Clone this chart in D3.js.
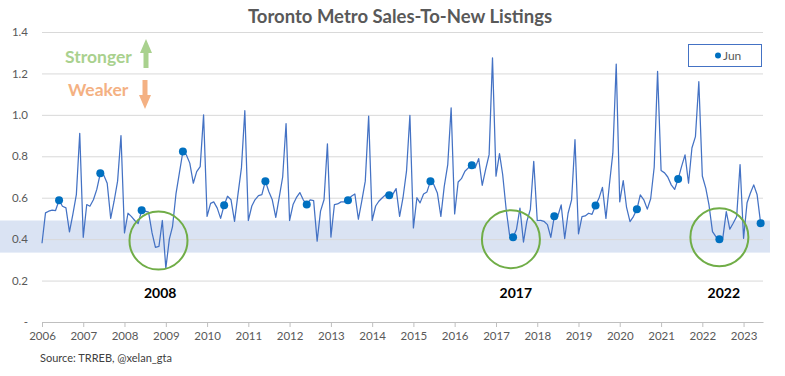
<!DOCTYPE html>
<html>
<head>
<meta charset="utf-8">
<script src="https://cdn.jsdelivr.net/npm/d3@7"></script>
<style>
  body { margin: 0; background: #fff; }
  svg { display: block; font-family: Lato, "Open Sans", sans-serif; }
</style>
</head>
<body>
<svg id="chart" width="785" height="376"></svg>
<script>
// monthly sales-to-new-listings ratio, Jan 2006 .. Jun 2023
var startYear = 2006;
var ratio = [
  0.38, 0.527, 0.535, 0.54, 0.538, 0.588, 0.559, 0.551, 0.435, 0.52, 0.615, 0.911,   // 2006
  0.409, 0.567, 0.559, 0.59, 0.64, 0.718, 0.71, 0.67, 0.50, 0.583, 0.68, 0.90,       // 2007
  0.43, 0.525, 0.51, 0.49, 0.475, 0.539, 0.535, 0.53, 0.43, 0.36, 0.365, 0.49,       // 2008
  0.26, 0.40, 0.46, 0.62, 0.72, 0.823, 0.807, 0.767, 0.67, 0.726, 0.75, 1.0,         // 2009
  0.51, 0.573, 0.58, 0.55, 0.50, 0.564, 0.607, 0.59, 0.486, 0.615, 0.744, 1.02,      // 2010
  0.49, 0.56, 0.59, 0.61, 0.615, 0.68, 0.63, 0.59, 0.505, 0.60, 0.70, 0.958,         // 2011
  0.49, 0.567, 0.60, 0.625, 0.59, 0.567, 0.59, 0.586, 0.39, 0.535, 0.59, 0.86,       // 2012
  0.41, 0.567, 0.57, 0.58, 0.58, 0.588, 0.607, 0.618, 0.496, 0.583, 0.68, 0.994,     // 2013
  0.49, 0.56, 0.583, 0.60, 0.615, 0.612, 0.615, 0.644, 0.51, 0.60, 0.728, 0.998,     // 2014
  0.454, 0.60, 0.575, 0.618, 0.628, 0.68, 0.663, 0.623, 0.51, 0.655, 0.76, 1.034,    // 2015
  0.522, 0.676, 0.692, 0.728, 0.744, 0.757, 0.744, 0.789, 0.66, 0.736, 0.808, 1.275, // 2016
  0.704, 0.813, 0.712, 0.543, 0.42, 0.409, 0.446, 0.55, 0.386, 0.486, 0.543, 0.776,  // 2017
  0.49, 0.491, 0.486, 0.47, 0.409, 0.51, 0.51, 0.565, 0.403, 0.525, 0.59, 0.88,      // 2018
  0.425, 0.509, 0.512, 0.525, 0.52, 0.562, 0.597, 0.65, 0.50, 0.66, 0.815, 1.245,    // 2019
  0.58, 0.683, 0.555, 0.485, 0.509, 0.544, 0.614, 0.59, 0.545, 0.595, 0.747, 1.21,   // 2020
  0.731, 0.72, 0.70, 0.662, 0.64, 0.69, 0.75, 0.807, 0.67, 0.84, 0.895, 1.16,        // 2021
  0.705, 0.645, 0.565, 0.436, 0.412, 0.40, 0.404, 0.533, 0.448, 0.477, 0.509, 0.76,  // 2022
  0.404, 0.576, 0.62, 0.662, 0.614, 0.477                                            // 2023
];
var yearTicks = [2006, 2007, 2008, 2009, 2010, 2011, 2012, 2013, 2014, 2015, 2016,
                 2017, 2018, 2019, 2020, 2021, 2022, 2023];
var yTicks = [0, 0.2, 0.4, 0.6, 0.8, 1.0, 1.2, 1.4];
var bandLow = 0.335, bandHigh = 0.49;
// circled years: centre date, centre value
var callouts = [
  { label: "2008", date: new Date(2008, 9, 28), value: 0.393, labelDate: new Date(2008, 10, 12) },
  { label: "2017", date: new Date(2017, 4, 13), value: 0.40,  labelDate: new Date(2017, 5, 25) },
  { label: "2022", date: new Date(2022, 5, 1),  value: 0.409, labelDate: new Date(2022, 6, 10) }
];

var data = ratio.map(function (v, i) {
  return { date: new Date(startYear, i, 1), value: v };
});
var june = data.filter(function (d) { return d.date.getMonth() === 5; });

var svg = d3.select("#chart");

var x = d3.scaleTime()
  .domain([new Date(2006, 0, 1), new Date(2023, 5, 22)])
  .range([42, 763]);
var y = d3.scaleLinear()
  .domain([0, 1.4])
  .range([322, 32]);

// shaded "balanced" band
svg.append("rect")
  .attr("x", 0)
  .attr("width", 770)
  .attr("y", y(bandHigh))
  .attr("height", y(bandLow) - y(bandHigh))
  .attr("fill", "#dae3f3");

// gridlines
svg.append("g")
  .attr("transform", "translate(42,0)")
  .call(d3.axisLeft(y).tickValues(yTicks.slice(1)).tickSize(-721).tickFormat(""))
  .call(function (g) { g.select(".domain").remove(); })
  .selectAll("line")
  .attr("stroke", "#d9d9d9");

// y labels
svg.append("g")
  .attr("transform", "translate(28,0)")
  .call(d3.axisLeft(y).tickValues(yTicks).tickSize(0)
    .tickFormat(function (d) { return d === 0 ? "-" : d3.format(".1f")(d); }))
  .call(function (g) { g.select(".domain").remove(); })
  .selectAll("text")
  .attr("x", 0)
  .attr("font-family", "Lato, sans-serif")
  .attr("font-size", 11.5)
  .attr("fill", "#595959");

// x axis
var xAxis = svg.append("g")
  .attr("transform", "translate(0," + y(0) + ")")
  .call(d3.axisBottom(x)
    .tickValues(yearTicks.map(function (yr) { return new Date(yr, 0, 1); }))
    .tickSize(5)
    .tickSizeOuter(0)
    .tickFormat(d3.timeFormat("%Y")));
xAxis.select(".domain").attr("stroke", "#bfbfbf");
xAxis.selectAll("line").attr("stroke", "#bfbfbf");
xAxis.selectAll("text")
  .attr("y", 10)
  .attr("font-family", "Lato, sans-serif")
  .attr("font-size", 11.5)
  .attr("fill", "#595959");

// line
var line = d3.line()
  .x(function (d) { return x(d.date); })
  .y(function (d) { return y(d.value); });

svg.append("path")
  .datum(data)
  .attr("d", line)
  .attr("fill", "none")
  .attr("stroke", "#4472c4")
  .attr("stroke-width", 1.25)
  .attr("stroke-linejoin", "round");

// June markers
svg.selectAll(".jun")
  .data(june)
  .enter().append("circle")
  .attr("class", "jun")
  .attr("cx", function (d) { return x(d.date); })
  .attr("cy", function (d) { return y(d.value); })
  .attr("r", 4)
  .attr("fill", "#0070c0");

// circled years
svg.selectAll(".ring")
  .data(callouts)
  .enter().append("circle")
  .attr("class", "ring")
  .attr("cx", function (d) { return x(d.date); })
  .attr("cy", function (d) { return y(d.value); })
  .attr("r", 29)
  .attr("fill", "none")
  .attr("stroke", "#70ad47")
  .attr("stroke-width", 2);

svg.selectAll(".ringLabel")
  .data(callouts)
  .enter().append("text")
  .attr("class", "ringLabel")
  .attr("x", function (d) { return x(d.labelDate); })
  .attr("y", y(0.14) + 5)
  .attr("text-anchor", "middle")
  .attr("font-size", 14)
  .attr("font-weight", "bold")
  .attr("fill", "#000")
  .text(function (d) { return d.label; });

// title
svg.append("text")
  .attr("x", 400)
  .attr("y", 23)
  .attr("text-anchor", "middle")
  .attr("font-size", 18.5)
  .attr("font-weight", "bold")
  .attr("fill", "#595959")
  .text("Toronto Metro Sales-To-New Listings");

// stronger / weaker
svg.append("text")
  .attr("x", 65).attr("y", 63)
  .attr("font-size", 17.5).attr("font-weight", "bold")
  .attr("fill", "#a9d18e")
  .text("Stronger");
svg.append("path")
  .attr("d", "M146,39 L152,53 L148.5,53 L148.5,68 L143.5,68 L143.5,53 L140,53 Z")
  .attr("fill", "#a9d18e");

svg.append("text")
  .attr("x", 68).attr("y", 96)
  .attr("font-size", 17.5).attr("font-weight", "bold")
  .attr("fill", "#f4b183")
  .text("Weaker");
svg.append("path")
  .attr("d", "M145,109 L139,95 L142.5,95 L142.5,80 L147.5,80 L147.5,95 L151,95 Z")
  .attr("fill", "#f4b183");

// legend
svg.append("rect")
  .attr("x", 688.5).attr("y", 44.5)
  .attr("width", 73).attr("height", 22)
  .attr("fill", "#fff")
  .attr("stroke", "#4472c4");
svg.append("circle")
  .attr("cx", 718).attr("cy", 55.5).attr("r", 3)
  .attr("fill", "#0070c0");
svg.append("text")
  .attr("x", 723).attr("y", 59.5)
  .attr("font-size", 12)
  .attr("fill", "#595959")
  .text("Jun");

// source
svg.append("text")
  .attr("x", 40).attr("y", 362)
  .attr("font-size", 11)
  .attr("fill", "#404040")
  .text("Source: TRREB, @xelan_gta");
</script>
</body>
</html>
